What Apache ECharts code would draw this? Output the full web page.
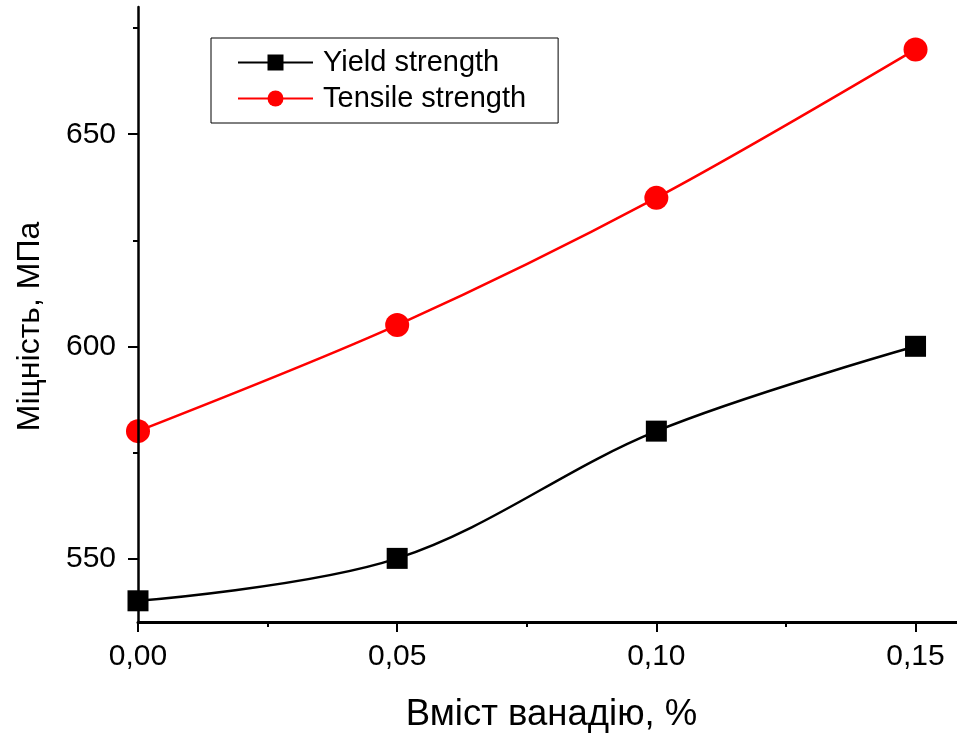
<!DOCTYPE html>
<html><head><meta charset="utf-8">
<script src="https://cdn.jsdelivr.net/npm/echarts@6/dist/echarts.min.js"></script>
<style>html,body{margin:0;padding:0;background:#fff}#c{width:957px;height:738px}</style>
</head><body><div id="c"></div>
<script>
const vanadium = [0, 0.05, 0.10, 0.15];
const yieldStrength = [540, 550, 580, 600];
const tensileStrength = [580, 605, 635, 670];
const xMajorTicks = [0, 0.05, 0.10, 0.15];
const xMinorTicks = [0.025, 0.075, 0.125];
const yMajorTicks = [550, 600, 650];
const yMinorTicks = [575, 625, 675];

const FONT = 'Liberation Sans, Arial, sans-serif';
const chart = echarts.init(document.getElementById('c'));
const pairs = (ys) => vanadium.map((x, i) => [x, ys[i]]);
const fmt = v => v.toFixed(2).replace('.', ',');

chart.setOption({
  animation: false,
  grid: {left: 138, top: 7, right: 0, bottom: 115, containLabel: false},
  legend: {
    orient: 'vertical', left: 211, top: 38,
    padding: [10, 32, 10, 26],
    borderColor: '#000', borderWidth: 1,
    itemWidth: 75, itemHeight: 20, itemGap: 7,
    textStyle: {fontFamily: FONT, fontSize: 29, color: '#000', padding: [0, 0, 0, 5]},
    data: ['Yield strength', 'Tensile strength']
  },
  xAxis: [{
    type: 'value', min: 0, max: 0.158, z: 5,
    name: 'Вміст ванадію, %', nameLocation: 'middle', nameGap: 74,
    nameTextStyle: {fontFamily: FONT, fontSize: 36.5, color: '#000', padding: [0, 0, 0, 8]},
    axisLine: {lineStyle: {color: '#000', width: 3}},
    axisTick: {show: true, inside: false, length: 10, lineStyle: {color: '#000', width: 2}, customValues: xMajorTicks},
    axisLabel: {fontFamily: FONT, fontSize: 30, color: '#000', margin: 20, customValues: xMajorTicks, formatter: fmt},
    splitLine: {show: false}
  }, {
    type: 'value', min: 0, max: 0.158, z: 5, position: 'bottom',
    axisLine: {show: false},
    axisTick: {show: true, length: 5, lineStyle: {color: '#000', width: 2}, customValues: xMinorTicks},
    axisLabel: {show: false}, splitLine: {show: false}
  }],
  yAxis: [{
    type: 'value', min: 535, max: 680, z: 5,
    name: 'Міцність, МПа', nameLocation: 'middle', nameGap: 92, nameRotate: 90,
    nameTextStyle: {fontFamily: FONT, fontSize: 32, color: '#000', padding: [0, 24, 0, 0]},
    axisLine: {show: true, lineStyle: {color: '#000', width: 2.5}},
    axisTick: {show: true, inside: false, length: 10, lineStyle: {color: '#000', width: 2}, customValues: yMajorTicks},
    axisLabel: {fontFamily: FONT, fontSize: 30, color: '#000', margin: 22, customValues: yMajorTicks},
    splitLine: {show: false}
  }, {
    type: 'value', min: 535, max: 680, z: 5, position: 'left',
    axisLine: {show: false},
    axisTick: {show: true, length: 5, lineStyle: {color: '#000', width: 2}, customValues: yMinorTicks},
    axisLabel: {show: false}, splitLine: {show: false}
  }],
  graphic: [{
    type: 'rect', z: 3, silent: true,
    shape: {x: 0, y: 0, width: 137, height: 738},
    style: {fill: '#fff'}
  }],
  series: [{
    name: 'Yield strength', type: 'line', xAxisIndex: 0, yAxisIndex: 0,
    data: pairs(yieldStrength), smooth: 0.35,
    symbol: 'rect', symbolSize: 21,
    lineStyle: {color: '#000', width: 2.5}, itemStyle: {color: '#000'}
  }, {
    name: 'Tensile strength', type: 'line', xAxisIndex: 0, yAxisIndex: 0,
    data: pairs(tensileStrength), smooth: 0.3,
    symbol: 'circle', symbolSize: 24,
    lineStyle: {color: '#ff0000', width: 2.5}, itemStyle: {color: '#ff0000'}
  }]
});
</script></body></html>
